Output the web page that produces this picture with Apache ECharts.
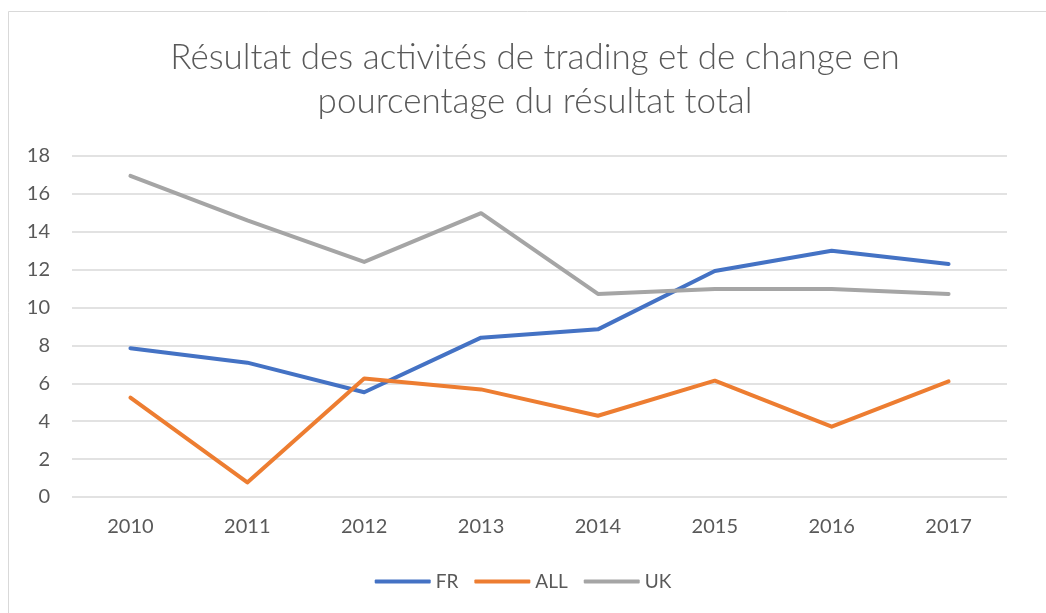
<!DOCTYPE html>
<html>
<head>
<meta charset="utf-8">
<script src="https://cdn.jsdelivr.net/npm/echarts@6/dist/echarts.min.js"></script>
<style>
  html, body { margin: 0; padding: 0; background: #fff; }
  #chart { width: 1046px; height: 613px; }
</style>
</head>
<body>
<div id="chart"></div>
<script>
const years = ['2010', '2011', '2012', '2013', '2014', '2015', '2016', '2017']
const fr = [7.85, 7.09, 5.53, 8.41, 8.85, 11.93, 13.0, 12.3]
const all = [5.24, 0.77, 6.25, 5.68, 4.29, 6.14, 3.71, 6.1]
const uk = [16.95, 14.6, 12.41, 14.98, 10.72, 10.98, 10.98, 10.72]

const font = 'Lato, "Open Sans", sans-serif'
const grey = '#595959'

function line(name, color, data) {
  return {
    name,
    type: 'line',
    data,
    symbol: 'none',
    lineStyle: { color, width: 4, cap: 'round', join: 'round' },
    itemStyle: { color },
    animation: false
  }
}

const chart = echarts.init(document.getElementById('chart'))
chart.setOption({
  backgroundColor: '#fff',
  textStyle: { fontFamily: font },
  graphic: [{
    type: 'rect',
    shape: { x: 8.5, y: 11.5, width: 1200, height: 800 },
    style: { fill: 'none', stroke: '#d9d9d9', lineWidth: 1 },
    silent: true
  }],
  title: {
    text: 'Résultat des activités de trading et de change en\npourcentage du résultat total',
    left: 530,
    textAlign: 'center',
    top: 31,
    textStyle: { fontFamily: font, fontSize: 35, fontWeight: 300, color: grey, lineHeight: 44 }
  },
  legend: {
    bottom: 17,
    left: 'center',
    icon: 'roundRect',
    itemWidth: 56,
    itemHeight: 4,
    itemGap: 16,
    textStyle: { fontFamily: font, fontSize: 19, color: grey },
    data: ['FR', 'ALL', 'UK']
  },
  grid: { left: 72, right: 39, top: 156, bottom: 116, containLabel: false },
  xAxis: {
    type: 'category',
    data: years,
    boundaryGap: true,
    axisLine: { show: false },
    axisTick: { show: false },
    axisLabel: { color: grey, fontSize: 20, margin: 20, fontFamily: font }
  },
  yAxis: {
    type: 'value',
    min: 0,
    max: 18,
    interval: 2,
    axisLine: { show: false },
    axisTick: { show: false },
    axisLabel: { color: grey, fontSize: 20, margin: 22, fontFamily: font },
    splitLine: { lineStyle: { color: '#d9d9d9', width: 1.5 } }
  },
  series: [
    line('FR', '#4472c4', fr),
    line('ALL', '#ed7d31', all),
    line('UK', '#a5a5a5', uk)
  ]
})
</script>
</body>
</html>
